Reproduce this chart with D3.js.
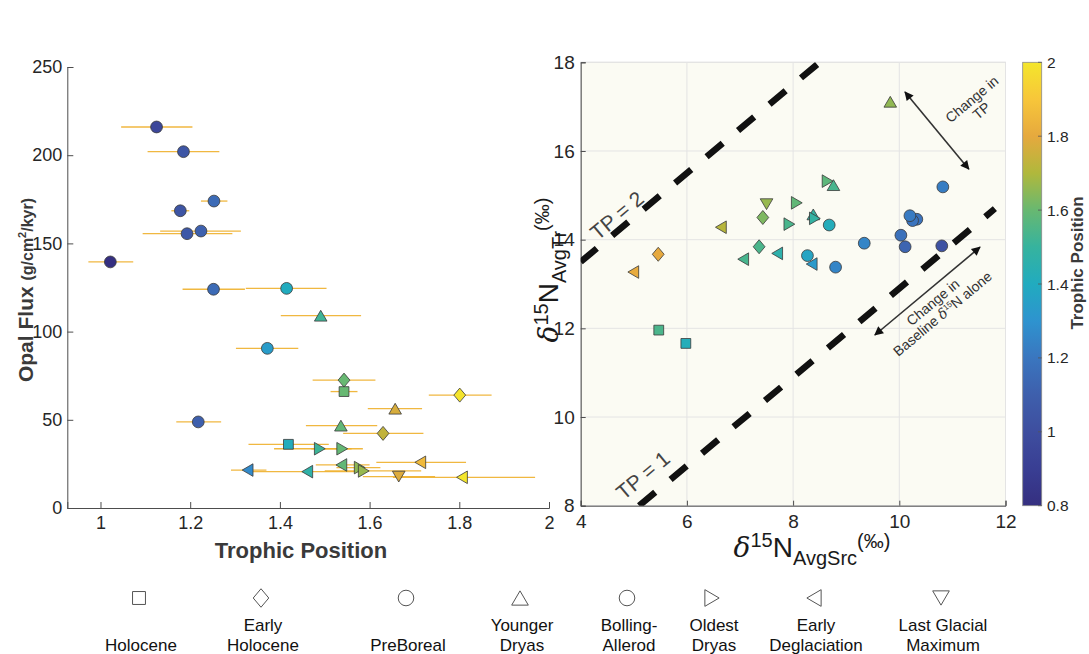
<!DOCTYPE html>
<html>
<head>
<meta charset="utf-8">
<script src="https://cdn.jsdelivr.net/npm/d3@7"></script>
<style>
  body { margin: 0; background: #fff; }
  svg { display: block; font-family: "Liberation Sans", Arial, Helvetica, sans-serif; }
</style>
</head>
<body>
<svg id="chart" width="1089" height="654"></svg>
<script>
// ---- data -------------------------------------------------------------
const periods    = ["BA","BA","BA","BA","BA","BA","BA","PB","PB","YD","PB","EH","Hol","EH","YD",
                    "PB","YD","EH","Hol","OD","OD","ED","ED","ED","OD","OD","ED","LGM","ED"];
const trophicPos = [1.125,1.185,1.253,1.178,1.224,1.193,1.022,1.252,1.415,1.491,1.372,1.543,1.543,1.801,1.657,
                    1.218,1.536,1.630,1.419,1.489,1.539,1.328,1.461,1.537,1.578,1.587,1.713,1.665,1.806];
const opalFlux   = [216,202,174,168.5,157,155.5,139.5,124,124.5,109,90.5,72.5,66,64,56.3,
                    48.8,46.7,42.3,36.1,33.6,33.6,21.5,20.6,24.4,22.9,21.0,25.9,17.8,17.4];
const tpLow      = [1.046,1.105,1.224,1.158,1.133,1.094,0.973,1.183,1.324,1.402,1.302,1.473,1.513,1.732,1.596,
                    1.169,1.458,1.541,1.330,1.387,1.470,1.291,1.333,1.480,1.526,1.500,1.615,1.585,1.652];
const tpHigh     = [1.205,1.265,1.283,1.198,1.313,1.294,1.073,1.322,1.504,1.581,1.441,1.613,1.573,1.872,1.717,
                    1.269,1.617,1.720,1.509,1.560,1.585,1.370,1.590,1.600,1.624,1.715,1.815,1.746,1.969];
const d15NSrc    = [10.11,10.33,9.34,10.03,10.82,10.25,10.80,8.80,8.68,8.38,8.27,7.36,5.47,5.46,9.83,
                    10.20,8.76,7.43,5.98,8.41,7.93,8.35,7.70,7.06,8.65,8.07,6.64,7.50,4.99];
const d15NTr     = [13.84,14.46,13.92,14.10,15.19,14.43,13.86,13.38,14.33,14.57,13.64,13.84,11.96,13.67,17.11,
                    14.54,15.23,14.50,11.66,14.48,14.35,13.45,13.69,13.56,15.32,14.83,14.28,14.80,13.27];

const periodKeys   = ["Hol","EH","PB","YD","BA","OD","ED","LGM"];
const periodShapes = ["square","diamond","circle","up","circle","right","left","down"];
const legendLines  = [["","Holocene"],["Early","Holocene"],["","PreBoreal"],["Younger","Dryas"],
                      ["Bolling-","Allerod"],["Oldest","Dryas"],["Early","Deglaciation"],["Last Glacial","Maximum"]];

const fluxTicks = [0,50,100,150,200,250];
const tpTicks   = [1,1.2,1.4,1.6,1.8,2];
const srcTicks  = [4,6,8,10,12];
const trTicks   = [8,10,12,14,16,18];
const cbarTicks = [0.8,1,1.2,1.4,1.6,1.8,2];
const tpLines   = [1,2];          // reference trophic-position lines
const beta = 2.9, tdf = 6.6;      // offset and enrichment per trophic step

// colour map (blue -> teal -> green -> orange -> yellow)
const cmapColors = ["#352f80","#393e93","#3e4e9f","#3e5fac","#3a76bf","#2e93cf","#21abbf",
                    "#36b39e","#68b871","#b0b83c","#e6a93e","#f7c63a","#f4e62b"];

// ---- setup ------------------------------------------------------------
const svg = d3.select("#chart");
const defs = svg.append("defs");
const pts = trophicPos.map((tp, i) => ({
  tp, flux: opalFlux[i], lo: tpLow[i], hi: tpHigh[i], src: d15NSrc[i], tr: d15NTr[i],
  shape: periodShapes[periodKeys.indexOf(periods[i])]
}));

const cmapT = cmapColors.map((c, i) => i / (cmapColors.length - 1));
const cmap = d3.scaleLinear().domain(cmapT).range(cmapColors).interpolate(d3.interpolateRgb);
const colorLeft  = v => cmap((v - d3.min(trophicPos)) / (d3.max(trophicPos) - d3.min(trophicPos)));
const colorRight = v => cmap((v - 0.8) / 1.2);

function markerPath(shape, k = 1) {
  const r = 5.9 * k, h = 4.9 * k, dw = 5.9 * k, dh = 7.0 * k, b = 6.3 * k, t = 5.4 * k;
  switch (shape) {
    case "circle":  return `M${r},0A${r},${r} 0 1,1 ${-r},0A${r},${r} 0 1,1 ${r},0Z`;
    case "square":  return `M${-h},${-h}H${h}V${h}H${-h}Z`;
    case "diamond": return `M0,${-dh}L${dw},0L0,${dh}L${-dw},0Z`;
    case "up":      return `M0,${-t}L${b},${t}L${-b},${t}Z`;
    case "down":    return `M0,${t}L${b},${-t}L${-b},${-t}Z`;
    case "right":   return `M${t},0L${-t},${-b}L${-t},${b}Z`;
    case "left":    return `M${-t},0L${t},${-b}L${t},${b}Z`;
  }
}

const axisColor = "#4d4d4d", labelColor = "#262626";
function styleAxis(g, size) {
  g.select(".domain").attr("stroke", axisColor);
  g.selectAll(".tick line").attr("stroke", axisColor);
  g.selectAll(".tick text").attr("fill", labelColor).attr("font-size", size).attr("font-family", null);
}

// ---- left panel: opal flux vs trophic position -------------------------
const xL = d3.scaleLinear().domain([0.926, 2]).range([67.3, 549]);
const yL = d3.scaleLinear().domain([0, 250]).range([508, 67]);
const gL = svg.append("g");

gL.append("g").attr("transform", `translate(0,${yL(0)})`)
  .call(d3.axisBottom(xL).tickValues(tpTicks).tickSize(-6).tickPadding(8).tickFormat(d3.format("~g")))
  .call(g => styleAxis(g, 18));
gL.append("g").attr("transform", `translate(${xL.range()[0]},0)`)
  .call(d3.axisLeft(yL).tickValues(fluxTicks).tickSize(-6).tickPadding(5))
  .call(g => styleAxis(g, 18));

// horizontal error bars
gL.append("g").selectAll("line").data(pts).join("line")
  .attr("x1", d => xL(d.lo)).attr("x2", d => xL(d.hi))
  .attr("y1", d => yL(d.flux)).attr("y2", d => yL(d.flux))
  .attr("stroke", "#efb12c").attr("stroke-width", 1.3).attr("opacity", 0.9);

gL.append("g").selectAll("path").data(pts).join("path")
  .attr("d", d => markerPath(d.shape))
  .attr("transform", d => `translate(${xL(d.tp)},${yL(d.flux)})`)
  .attr("fill", d => colorLeft(d.tp))
  .attr("stroke", "#3a3a3a").attr("stroke-width", 0.8);

// axis titles
gL.append("text")
  .attr("transform", `translate(33,290) rotate(-90)`)
  .attr("text-anchor", "middle").attr("font-weight", "bold").attr("fill", "#3a3a3a")
  .call(t => {
    t.append("tspan").attr("font-size", 21).text("Opal Flux ");
    t.append("tspan").attr("font-size", 16).text("(g/cm");
    t.append("tspan").attr("font-size", 11).attr("dy", -7).text("2");
    t.append("tspan").attr("font-size", 16).attr("dy", 7).text("/kyr)");
  });
gL.append("text").attr("x", 301).attr("y", 558)
  .attr("text-anchor", "middle").attr("font-weight", "bold").attr("font-size", 22)
  .attr("fill", "#3a3a3a").text("Trophic Position");

// ---- right panel: consumer vs source d15N ------------------------------
const xR = d3.scaleLinear().domain([4, 12]).range([580.7, 1005.5]);
const yR = d3.scaleLinear().domain([8, 18]).range([505.7, 62.3]);
const gR = svg.append("g");

gR.append("rect").attr("x", xR(4)).attr("y", yR(18))
  .attr("width", xR(12) - xR(4)).attr("height", yR(8) - yR(18))
  .attr("fill", "#fbfbf3").attr("stroke", "#dcdcdc").attr("stroke-width", 1);

// grid
gR.append("g").selectAll("line").data(srcTicks).join("line")
  .attr("x1", d => xR(d)).attr("x2", d => xR(d)).attr("y1", yR(8)).attr("y2", yR(18))
  .attr("stroke", "#e4e4e4").attr("stroke-width", 1);
gR.append("g").selectAll("line").data(trTicks).join("line")
  .attr("y1", d => yR(d)).attr("y2", d => yR(d)).attr("x1", xR(4)).attr("x2", xR(12))
  .attr("stroke", "#e4e4e4").attr("stroke-width", 1);

gR.append("g").attr("transform", `translate(0,${yR(8)})`)
  .call(d3.axisBottom(xR).tickValues(srcTicks).tickSize(-5).tickPadding(9))
  .call(g => styleAxis(g, 19));
gR.append("g").attr("transform", `translate(${xR(4)},0)`)
  .call(d3.axisLeft(yR).tickValues(trTicks).tickSize(-5).tickPadding(6))
  .call(g => styleAxis(g, 19));

// clip for the reference lines
defs.append("clipPath").attr("id", "plotClip")
  .append("rect").attr("x", xR(4)).attr("y", yR(18))
  .attr("width", xR(12) - xR(4)).attr("height", yR(8) - yR(18));

const tpLineExtent = { 1: [5.1, 11.8], 2: [4, 8.6] };
const lineGen = d3.line().x(d => xR(d[0])).y(d => yR(d[1]));
gR.append("g").attr("clip-path", "url(#plotClip)")
  .selectAll("path").data(tpLines).join("path")
  .attr("d", tp => lineGen(tpLineExtent[tp].map(s => [s, s + beta + (tp - 1) * tdf])))
  .attr("fill", "none").attr("stroke", "#111").attr("stroke-width", 6.5)
  .attr("stroke-dasharray", "21,20");

const lineAngle = -Math.atan2(yR(8) - yR(9), xR(9) - xR(8)) * 180 / Math.PI;
const tpLabelPos = { 1: [5.17, 8.69], 2: [4.68, 14.55] };
gR.append("g").selectAll("text").data(tpLines).join("text")
  .attr("transform", tp => `translate(${xR(tpLabelPos[tp][0])},${yR(tpLabelPos[tp][1])}) rotate(${lineAngle})`)
  .attr("text-anchor", "middle").attr("dominant-baseline", "central")
  .attr("font-size", 21).attr("fill", "#444").text(tp => `TP = ${tp}`);

// annotation arrows
defs.append("marker").attr("id", "arrowHead").attr("viewBox", "0 0 10 10")
  .attr("refX", 9).attr("refY", 5).attr("markerWidth", 11).attr("markerHeight", 9)
  .attr("markerUnits", "userSpaceOnUse").attr("orient", "auto-start-reverse")
  .append("path").attr("d", "M0,0L10,5L0,10Z").attr("fill", "#111");

const arrows = [[[10.107, 17.33], [11.31, 15.59]], [[9.54, 11.85], [11.52, 13.83]]];
gR.append("g").selectAll("line").data(arrows).join("line")
  .attr("x1", d => xR(d[0][0])).attr("y1", d => yR(d[0][1]))
  .attr("x2", d => xR(d[1][0])).attr("y2", d => yR(d[1][1]))
  .attr("stroke", "#333").attr("stroke-width", 1.6)
  .attr("marker-start", "url(#arrowHead)").attr("marker-end", "url(#arrowHead)");

function rotatedNote(cx, cy, build) {
  gR.append("text").attr("transform", `translate(${cx},${cy}) rotate(${lineAngle})`)
    .attr("text-anchor", "middle").attr("font-size", 14).attr("fill", "#333").call(build);
}
rotatedNote(975, 103, t => {
  t.append("tspan").attr("x", 0).attr("dy", 0).text("Change in");
  t.append("tspan").attr("x", 0).attr("dy", 15).text("TP");
});
rotatedNote(936, 306, t => {
  t.append("tspan").attr("x", 0).attr("dy", 0).text("Change in");
  t.append("tspan").attr("x", 0).attr("dy", 15).text("Baseline ");
  t.append("tspan").attr("font-style", "italic").attr("font-family", "DejaVu Serif, serif").text("δ");
  t.append("tspan").attr("font-size", 8).attr("dy", -5).text("15");
  t.append("tspan").attr("dy", 5).text("N alone");
});

// points
gR.append("g").selectAll("path").data(pts).join("path")
  .attr("d", d => markerPath(d.shape))
  .attr("transform", d => `translate(${xR(d.src)},${yR(d.tr)})`)
  .attr("fill", d => colorRight(d.tp))
  .attr("stroke", "#3a3a3a").attr("stroke-width", 0.8);

// axis titles with delta notation
function deltaLabel(t, sub) {
  t.append("tspan").attr("font-family", "DejaVu Serif, serif").attr("font-style", "italic").text("δ");
  t.append("tspan").attr("font-size", 20).attr("dy", -10).text("15");
  t.append("tspan").attr("dy", 10).text("N");
  t.append("tspan").attr("font-size", 20).attr("dy", 8).text(sub);
  t.append("tspan").attr("font-size", 20).attr("dy", -17).text("(‰)");
}
gR.append("text").attr("x", 812).attr("y", 557).attr("text-anchor", "middle")
  .attr("font-size", 28).attr("fill", "#1a1a1a").call(t => deltaLabel(t, "AvgSrc"));
gR.append("text").attr("transform", "translate(558,270) rotate(-90)").attr("text-anchor", "middle")
  .attr("font-size", 28).attr("fill", "#1a1a1a").call(t => deltaLabel(t, "AvgTr"));

// ---- colour bar ---------------------------------------------------------
const yC = d3.scaleLinear().domain([0.8, 2]).range([505.7, 62.3]);
const grad = defs.append("linearGradient").attr("id", "cbarGrad")
  .attr("x1", 0).attr("y1", 1).attr("x2", 0).attr("y2", 0);
grad.selectAll("stop").data(cmapColors).join("stop")
  .attr("offset", (d, i) => cmapT[i]).attr("stop-color", d => d);
const cb = svg.append("g");
cb.append("rect").attr("x", 1022.7).attr("y", yC(2)).attr("width", 19).attr("height", yC(0.8) - yC(2))
  .attr("fill", "url(#cbarGrad)").attr("stroke", "#8a8a8a").attr("stroke-width", 0.8);
cb.selectAll("line.tk").data(cbarTicks).join("line").attr("class", "tk")
  .attr("x1", 1038).attr("x2", 1041.7).attr("y1", d => yC(d)).attr("y2", d => yC(d))
  .attr("stroke", "#555").attr("stroke-width", 0.8);
cb.selectAll("text.tl").data(cbarTicks).join("text").attr("class", "tl")
  .attr("x", 1047).attr("y", d => yC(d)).attr("dominant-baseline", "central")
  .attr("font-size", 15.5).attr("fill", labelColor).text(d => d3.format("~g")(d));
cb.append("text").attr("transform", "translate(1083,263) rotate(-90)")
  .attr("text-anchor", "middle").attr("font-weight", "bold").attr("font-size", 17)
  .attr("fill", "#3a3a3a").text("Trophic Position");

// ---- period legend ------------------------------------------------------
const legendX = [139, 261, 406, 520, 627, 712, 814, 941];
const lg = svg.append("g");
legendLines.forEach((lines, i) => {
  lg.append("path").attr("d", markerPath(periodShapes[i], 1.32))
    .attr("transform", `translate(${legendX[i]},598)`)
    .attr("fill", "#fff").attr("stroke", "#555").attr("stroke-width", 1);
  const t = lg.append("text").attr("text-anchor", "middle").attr("font-size", 17).attr("fill", "#111");
  if (lines[0]) t.append("tspan").attr("x", legendX[i] + 2).attr("y", 630.5).text(lines[0]);
  t.append("tspan").attr("x", legendX[i] + 2).attr("y", 650.5).text(lines[1]);
});
</script>
</body>
</html>
